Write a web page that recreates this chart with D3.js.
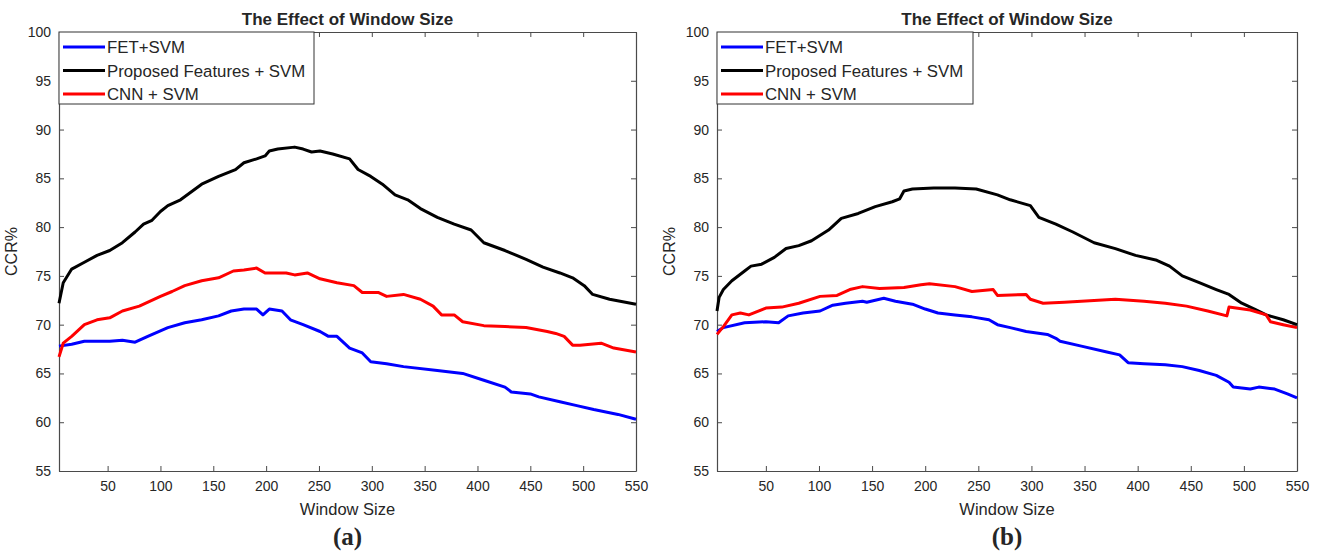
<!DOCTYPE html>
<html>
<head>
<meta charset="utf-8">
<script src="https://cdn.jsdelivr.net/npm/d3@7"></script>
<style>
  html, body { margin: 0; padding: 0; background: #fff; }
  svg { display: block; }
  text { font-family: "Liberation Sans", Arial, Helvetica, sans-serif; fill: #262626; }
</style>
</head>
<body>
<svg id="chart" width="1320" height="555"></svg>
<script>
// Axis settings shared by both panels
const chartTitle = "The Effect of Window Size";
const xLabel = "Window Size";
const yLabel = "CCR%";
const xDomain = [4, 550];
const yDomain = [55, 100];
const xTicks = [50, 100, 150, 200, 250, 300, 350, 400, 450, 500, 550];
const yTicks = [55, 60, 65, 70, 75, 80, 85, 90, 95, 100];
const seriesNames = ["FET+SVM", "Proposed Features + SVM", "CNN + SVM"];
const seriesColors = ["#0000ff", "#000000", "#ff0000"];

// Panel (a): [window size, CCR%]
const a_FET = [[4,67.8],[16,68.0],[28,68.3],[52,68.3],[64,68.4],[76,68.2],[88,68.8],[107,69.7],[123,70.2],[139,70.5],[155,70.9],[167,71.4],[179,71.6],[191,71.6],[197,71.0],[203,71.6],[215,71.4],[223,70.5],[235,70.0],[251,69.3],[259,68.8],[267,68.8],[279,67.6],[291,67.1],[299,66.2],[314,66.0],[330,65.7],[362,65.3],[386,65.0],[406,64.3],[426,63.6],[432,63.1],[450,62.9],[458,62.6],[478,62.1],[494,61.7],[510,61.3],[533,60.8],[550,60.3]];
const a_Proposed = [[4,72.2],[8,74.3],[16,75.7],[28,76.4],[40,77.1],[52,77.6],[64,78.4],[76,79.5],[84,80.3],[92,80.7],[100,81.6],[107,82.2],[119,82.8],[139,84.4],[155,85.2],[171,85.9],[179,86.6],[191,87.0],[199,87.3],[203,87.8],[211,88.0],[227,88.2],[235,88.0],[243,87.7],[251,87.8],[263,87.5],[279,87.0],[287,85.9],[299,85.2],[310,84.4],[322,83.3],[334,82.8],[346,81.9],[362,81.0],[378,80.3],[394,79.7],[406,78.4],[426,77.6],[446,76.7],[462,75.9],[478,75.3],[490,74.8],[501,74.0],[509,73.1],[525,72.6],[550,72.1]];
const a_CNN = [[4,66.7],[8,68.1],[16,68.8],[28,70.0],[40,70.5],[52,70.7],[64,71.4],[80,71.9],[100,72.9],[111,73.4],[123,74.0],[139,74.5],[155,74.8],[169,75.5],[179,75.6],[191,75.8],[199,75.3],[219,75.3],[227,75.1],[239,75.3],[251,74.7],[267,74.3],[283,74.0],[291,73.3],[306,73.3],[314,72.9],[330,73.1],[346,72.6],[358,71.9],[366,71.0],[378,71.0],[386,70.3],[406,69.9],[426,69.8],[446,69.7],[466,69.3],[474,69.1],[482,68.8],[490,67.9],[497,67.9],[517,68.1],[529,67.6],[550,67.2]];

// Panel (b): [window size, CCR%]
const b_FET = [[4,69.3],[10,69.7],[30,70.2],[50,70.3],[62,70.2],[71,70.9],[85,71.2],[101,71.4],[113,72.0],[125,72.2],[141,72.4],[145,72.3],[161,72.7],[172,72.4],[188,72.1],[200,71.6],[212,71.2],[228,71.0],[244,70.8],[260,70.5],[268,70.0],[280,69.7],[295,69.3],[315,69.0],[323,68.6],[327,68.3],[347,67.8],[371,67.2],[383,66.9],[391,66.1],[406,66.0],[426,65.9],[442,65.7],[458,65.3],[474,64.8],[486,64.1],[490,63.6],[506,63.4],[514,63.6],[529,63.4],[541,62.9],[550,62.5]];
const b_Proposed = [[4,71.4],[6,72.8],[10,73.6],[18,74.5],[30,75.5],[36,76.0],[46,76.2],[58,76.9],[69,77.8],[81,78.1],[93,78.6],[109,79.7],[121,80.9],[137,81.4],[153,82.1],[169,82.6],[176,82.9],[180,83.7],[188,83.9],[208,84.0],[228,84.0],[248,83.9],[268,83.3],[280,82.8],[299,82.2],[307,81.0],[323,80.3],[339,79.5],[359,78.4],[379,77.8],[398,77.1],[418,76.6],[430,76.0],[442,75.0],[458,74.3],[474,73.6],[486,73.1],[498,72.2],[510,71.6],[521,71.0],[537,70.5],[550,70.0]];
const b_CNN = [[4,69.0],[10,69.8],[18,71.0],[26,71.2],[34,71.0],[50,71.7],[65,71.8],[81,72.2],[101,72.9],[117,73.0],[129,73.6],[141,73.9],[157,73.7],[180,73.8],[196,74.1],[204,74.2],[228,73.9],[244,73.4],[264,73.6],[268,73.0],[295,73.1],[299,72.6],[311,72.2],[331,72.3],[347,72.4],[379,72.6],[406,72.4],[426,72.2],[446,71.9],[466,71.4],[484,70.9],[486,71.8],[506,71.5],[521,71.0],[525,70.3],[537,70.0],[550,69.7]];

const panels = [
  { tag: "(a)", series: [a_FET, a_Proposed, a_CNN], left: 59, right: 636, legendRight: 314 },
  { tag: "(b)", series: [b_FET, b_Proposed, b_CNN], left: 717, right: 1297, legendRight: 973 }
];

const svg = d3.select("#chart");
const plotTop = 32, plotBottom = 471;
const axisColor = "#4a4a4a";
const tickLen = 5;

panels.forEach(p => {
  const x = d3.scaleLinear().domain(xDomain).range([p.left, p.right]);
  const y = d3.scaleLinear().domain(yDomain).range([plotBottom, plotTop]);
  const g = svg.append("g");

  // Bottom axis with labels, ticks pointing inward
  const xAxis = g.append("g")
    .attr("transform", `translate(0,${plotBottom})`)
    .call(d3.axisBottom(x).tickValues(xTicks).tickSize(-tickLen).tickPadding(10).tickSizeOuter(0));
  // Top axis, ticks only
  const xAxisTop = g.append("g")
    .attr("transform", `translate(0,${plotTop})`)
    .call(d3.axisTop(x).tickValues(xTicks).tickSize(-tickLen).tickFormat("").tickSizeOuter(0));
  // Left axis with labels
  const yAxis = g.append("g")
    .attr("transform", `translate(${p.left},0)`)
    .call(d3.axisLeft(y).tickValues(yTicks).tickSize(-tickLen).tickPadding(8).tickSizeOuter(0));
  // Right axis, ticks only
  const yAxisRight = g.append("g")
    .attr("transform", `translate(${p.right},0)`)
    .call(d3.axisRight(y).tickValues(yTicks).tickSize(-tickLen).tickFormat("").tickSizeOuter(0));

  [xAxis, xAxisTop, yAxis, yAxisRight].forEach(ax => {
    ax.select(".domain").attr("stroke", axisColor).attr("stroke-width", 1.2);
    ax.selectAll(".tick line").attr("stroke", axisColor).attr("stroke-width", 1);
    ax.selectAll(".tick text")
      .attr("fill", "#262626")
      .style("font-family", '"Liberation Sans", Arial, sans-serif')
      .style("font-size", "14px");
  });

  // Data lines
  const line = d3.line().x(d => x(d[0])).y(d => y(d[1]));
  p.series.forEach((s, i) => {
    g.append("path")
      .datum(s)
      .attr("fill", "none")
      .attr("stroke", seriesColors[i])
      .attr("stroke-width", 3)
      .attr("stroke-linejoin", "round")
      .attr("d", line);
  });

  // Title
  g.append("text")
    .attr("x", (p.left + p.right) / 2)
    .attr("y", 25)
    .attr("text-anchor", "middle")
    .style("font-size", "17px")
    .style("font-weight", "bold")
    .attr("fill", "#000")
    .text(chartTitle);

  // Axis labels
  g.append("text")
    .attr("x", (p.left + p.right) / 2)
    .attr("y", 515)
    .attr("text-anchor", "middle")
    .style("font-size", "16.5px")
    .text(xLabel);

  g.append("text")
    .attr("transform", `translate(${p.left - 42},${(plotTop + plotBottom) / 2}) rotate(-90)`)
    .attr("text-anchor", "middle")
    .style("font-size", "16px")
    .text(yLabel);

  // Panel tag
  g.append("text")
    .attr("x", (p.left + p.right) / 2)
    .attr("y", 545)
    .attr("text-anchor", "middle")
    .style("font-family", '"Liberation Serif", "Times New Roman", serif')
    .style("font-size", "25px")
    .style("font-weight", "bold")
    .attr("fill", "#000")
    .text(p.tag);

  // Legend
  const lg = g.append("g");
  lg.append("rect")
    .attr("x", p.left)
    .attr("y", plotTop)
    .attr("width", p.legendRight - p.left)
    .attr("height", 72)
    .attr("fill", "#fff")
    .attr("stroke", "#333")
    .attr("stroke-width", 1);
  seriesNames.forEach((name, i) => {
    const ly = plotTop + 15 + i * 23.5;
    lg.append("line")
      .attr("x1", p.left + 4).attr("x2", p.left + 46)
      .attr("y1", ly).attr("y2", ly)
      .attr("stroke", seriesColors[i]).attr("stroke-width", 3);
    lg.append("text")
      .attr("x", p.left + 48)
      .attr("y", ly + 6)
      .style("font-size", "16.8px")
      .attr("fill", "#000")
      .text(name);
  });
});
</script>
</body>
</html>
